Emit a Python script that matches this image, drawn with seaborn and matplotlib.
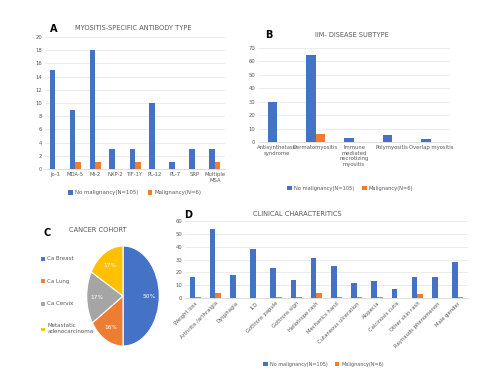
import matplotlib
matplotlib.use("Agg")
import matplotlib.pyplot as plt
import seaborn as sns
import pandas as pd

sns.set_theme(style="white")
plt.rcParams['font.family'] = ['Liberation Sans Narrow', 'DejaVu Sans']

BLUE = "#4472C4"
ORANGE = "#ED7D31"
GRAY = "#A5A5A5"
YELLOW = "#FFC000"
TXT = "#595959"

series_names = ["No malignancy(N=105)", "Malignancy(N=6)"]

# Panel A
a_cats = ["Jo-1", "MDA-5", "Mi-2", "NXP-2", "TIF-1Y", "PL-12", "PL-7", "SRP", "Multiple\nMSA"]
a_nomal = [15, 9, 18, 3, 3, 10, 1, 3, 3]
a_mal = [0, 1, 1, 0, 1, 0, 0, 0, 1]

# Panel B
b_cats = ["Antisynthetase\nsyndrome", "Dermatomyositis", "Immune\nmediated\nnecrotizing\nmyositis",
          "Polymyositis", "Overlap myositis"]
b_nomal = [30, 65, 3, 5, 2]
b_mal = [0, 6, 0, 0, 0]

# Panel C
c_labels = ["Ca Breast", "Ca Lung", "Ca Cervix", "Metastatic\nadenocarcinoma"]
c_values = [50, 16, 17, 17]

# Panel D
d_cats = ["Weight loss", "Arthritis /arthralgia", "Dysphagia", "ILD", "Gottrons papule",
          "Gottrons sign", "Heliotrope rash", "Mechanics hand", "Cutaneous ulceration",
          "Alopecia", "Calcinosis cutis", "Other skin rash", "Raynauds phenomenon", "Male gender"]
d_nomal = [16, 54, 18, 38, 23, 14, 31, 25, 12, 13, 7, 16, 16, 28]
d_mal = [1, 4, 0, 0, 1, 1, 4, 1, 1, 1, 0, 3, 0, 1]

W, H = 497, 382
fig = plt.figure(figsize=(W / 100, H / 100), dpi=100)


def rect(x0, y_top, x1, y_bot):
    return [x0 / W, 1 - y_bot / H, (x1 - x0) / W, (y_bot - y_top) / H]


def long_df(cats, s1, s2):
    rows = []
    for c, v in zip(cats, s1):
        rows.append((c, series_names[0], v))
    for c, v in zip(cats, s2):
        rows.append((c, series_names[1], v))
    return pd.DataFrame(rows, columns=["cat", "series", "value"])


def bar_panel(ax, cats, s1, s2, ymax, ystep, leg_y, leg_x=0.5, fs=3.8, rot=0, width=0.55,
              legfs=3.6):
    df = long_df(cats, s1, s2)
    sns.barplot(data=df, x="cat", y="value", hue="series", order=cats,
                hue_order=series_names, palette=[BLUE, ORANGE], width=width,
                ax=ax, saturation=1, legend=True, linewidth=0)
    ax.set_ylim(0, ymax)
    ax.set_yticks(range(0, ymax + 1, ystep))
    ax.set_xlabel("")
    ax.set_ylabel("")
    ax.yaxis.grid(True, color="#E4E4E4", linewidth=0.5)
    ax.set_axisbelow(True)
    for s in ["top", "right", "left"]:
        ax.spines[s].set_visible(False)
    ax.spines["bottom"].set_color("#D9D9D9")
    ax.spines["bottom"].set_linewidth(0.6)
    ax.tick_params(axis="both", length=0, labelsize=fs, colors=TXT, pad=2)
    if rot:
        for lab in ax.get_xticklabels():
            lab.set_rotation(rot)
            lab.set_ha("right")
            lab.set_rotation_mode("anchor")
    ax.legend(loc="center", bbox_to_anchor=(leg_x, leg_y), ncol=2, frameon=False,
              fontsize=legfs, handlelength=0.9, handleheight=0.9, columnspacing=1.6,
              handletextpad=0.4, labelcolor=TXT)


# Panel A
axA = fig.add_axes(rect(45, 37, 225, 169))
bar_panel(axA, a_cats, a_nomal, a_mal, 20, 2, -0.18, 0.5, legfs=3.9)
fig.text(133 / W, 1 - 28 / H, "MYOSITIS-SPECIFIC ANTIBODY TYPE", ha="center", va="center",
         fontsize=4.8, color=TXT)
fig.text(50 / W, 1 - 29 / H, "A", ha="left", va="center", fontsize=7, fontweight="bold",
         color="black")

# Panel B
axB = fig.add_axes(rect(258, 48, 450, 142))
bar_panel(axB, b_cats, b_nomal, b_mal, 70, 10, -0.49, 0.48, width=0.5, legfs=3.7)
fig.text(352 / W, 1 - 35 / H, "IIM- DISEASE SUBTYPE", ha="center", va="center",
         fontsize=4.8, color=TXT)
fig.text(265 / W, 1 - 35 / H, "B", ha="left", va="center", fontsize=7, fontweight="bold",
         color="black")

# Panel D
axD = fig.add_axes(rect(185, 221, 468, 298))
bar_panel(axD, d_cats, d_nomal, d_mal, 60, 10, -0.86, 0.49, rot=45, width=0.55, legfs=3.5)
fig.text(297 / W, 1 - 214 / H, "CLINICAL CHARACTERITICS", ha="center", va="center",
         fontsize=4.8, color=TXT)
fig.text(184 / W, 1 - 215 / H, "D", ha="left", va="center", fontsize=7, fontweight="bold",
         color="black")

# Panel C
axC = fig.add_axes(rect(86, 245, 160, 347))
wedges, texts, autotexts = axC.pie(
    c_values, colors=[BLUE, ORANGE, GRAY, YELLOW], startangle=90, counterclock=False,
    autopct="%.0f%%", pctdistance=0.72,
    wedgeprops=dict(edgecolor="white", linewidth=0.8),
    textprops=dict(color="white", fontsize=4.2))
axC.set_aspect("auto")
axC.set_xlim(-1.02, 1.02)
axC.set_ylim(-1.02, 1.02)
fig.text(98 / W, 1 - 230 / H, "CANCER COHORT", ha="center", va="center",
         fontsize=4.8, color=TXT)
fig.text(44 / W, 1 - 233 / H, "C", ha="left", va="center", fontsize=7, fontweight="bold",
         color="black")
fig.legend(wedges, c_labels, loc="upper left", bbox_to_anchor=(35 / W, 1 - 251 / H),
           frameon=False, fontsize=4.0, handlelength=0.9, handleheight=0.9,
           handletextpad=0.4, labelspacing=3.1, labelcolor=TXT)

fig.savefig("out.png", dpi=100, facecolor="white")
